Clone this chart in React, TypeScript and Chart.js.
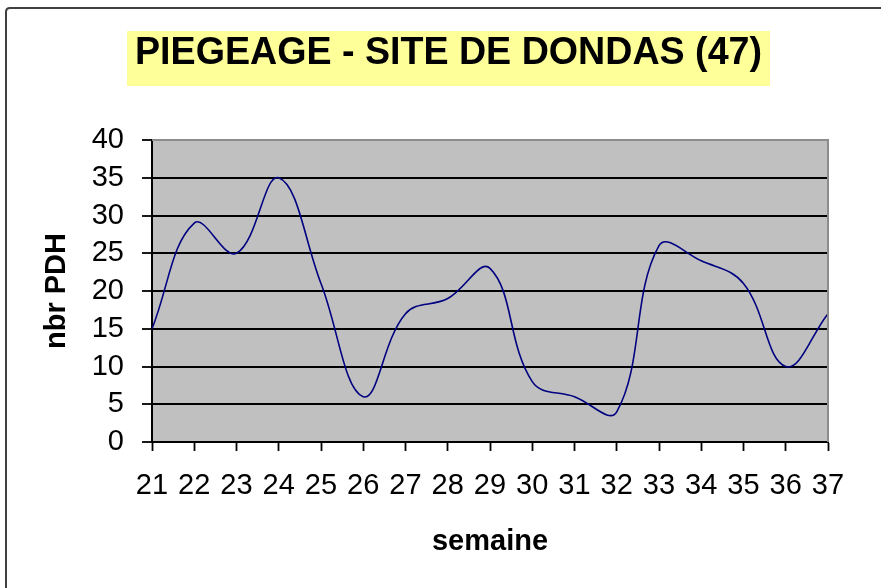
import React, { useEffect, useRef } from "react";
import { Chart, registerables } from "chart.js";

Chart.register(...registerables);

const weeks = ["21", "22", "23", "24", "25", "26", "27", "28", "29", "30", "31", "32", "33", "34", "35", "36", "37"];
const captures = [15, 29, 25, 35, 21, 6, 17, 19, 23, 8, 6, 4, 26, 24, 21, 10, 17];
const chartTitle = "PIEGEAGE - SITE DE DONDAS (47)";
const xTitle = "semaine";
const yTitle = "nbr PDH";
const yMin = 0;
const yMax = 40;
const yStep = 5;

const FONT = "'Liberation Sans', Arial, sans-serif";

const decorPlugin = {
  id: "decor",
  beforeDraw(chart: any) {
    const { ctx, chartArea } = chart;
    ctx.save();
    ctx.fillStyle = "#ffffff";
    ctx.fillRect(0, 0, chart.width, chart.height);
    // outer frame (top + left)
    ctx.strokeStyle = "#404040";
    ctx.lineWidth = 2;
    ctx.beginPath();
    ctx.moveTo(6, chart.height + 2);
    ctx.lineTo(6, 12);
    ctx.quadraticCurveTo(6, 8, 10, 8);
    ctx.lineTo(chart.width + 2, 8);
    ctx.stroke();
    // plot background
    ctx.fillStyle = "#c0c0c0";
    ctx.fillRect(chartArea.left, chartArea.top, chartArea.right - chartArea.left, chartArea.bottom - chartArea.top);
    // title box
    ctx.fillStyle = "#ffff99";
    ctx.fillRect(127, 31, 643, 55);
    ctx.fillStyle = "#000000";
    ctx.font = `bold 38px ${FONT}`;
    ctx.textAlign = "center";
    ctx.textBaseline = "middle";
    const w = ctx.measureText(chartTitle).width;
    const target = 627;
    ctx.save();
    ctx.translate(448.5, 54);
    ctx.scale(target / w, 1);
    ctx.fillText(chartTitle, 0, 0);
    ctx.restore();
    // axis titles
    ctx.font = `bold 29px ${FONT}`;
    ctx.fillText(xTitle, (chartArea.left + chartArea.right) / 2, 542);
    ctx.save();
    ctx.translate(57, (chartArea.top + chartArea.bottom) / 2);
    ctx.rotate(-Math.PI / 2);
    ctx.fillText(yTitle, 0, 0);
    ctx.restore();
    ctx.restore();
  },
  afterDatasetsDraw(chart: any) {
    const { ctx, chartArea } = chart;
    ctx.save();
    ctx.strokeStyle = "#8c8c8c";
    ctx.lineWidth = 2;
    ctx.beginPath();
    ctx.moveTo(chartArea.left, chartArea.top);
    ctx.lineTo(chartArea.right, chartArea.top);
    ctx.lineTo(chartArea.right, chartArea.bottom);
    ctx.stroke();
    ctx.restore();
  },
};

export default function App() {
  const canvasRef = useRef<HTMLCanvasElement | null>(null);

  useEffect(() => {
    const canvas = canvasRef.current;
    if (!canvas) return;
    const chart = new Chart(canvas, {
      type: "line",
      data: {
        labels: weeks,
        datasets: [
          {
            data: captures,
            borderColor: "#000080",
            borderWidth: 1.6,
            pointRadius: 0,
            tension: 0.4,
            fill: false,
          },
        ],
      },
      options: {
        animation: false,
        responsive: false,
        devicePixelRatio: 1,
        layout: { padding: { top: 140, right: 53, left: 0, bottom: 0 } },
        plugins: {
          legend: { display: false },
          title: { display: false },
          tooltip: { enabled: false },
        },
        scales: {
          x: {
            type: "category",
            offset: false,
            afterFit: (s: any) => {
              s.height = 146;
            },
            grid: {
              drawOnChartArea: false,
              drawTicks: true,
              tickLength: 9,
              tickColor: "#000000",
              tickWidth: 1.8,
            },
            border: { display: true, color: "#000000", width: 2 },
            ticks: {
              autoSkip: false,
              maxRotation: 0,
              minRotation: 0,
              color: "#000000",
              font: { family: FONT, size: 29 },
              padding: 18,
            },
          },
          y: {
            min: yMin,
            max: yMax,
            afterFit: (s: any) => {
              s.width = 152;
            },
            grid: {
              color: (c: any) => (c.tick && c.tick.value === yMax ? "rgba(0,0,0,0)" : "#000000"),
              lineWidth: 2,
              tickLength: 10,
              tickColor: "#000000",
              tickWidth: 1.8,
            },
            border: { display: true, color: "#000000", width: 2 },
            ticks: {
              stepSize: yStep,
              autoSkip: false,
              color: "#000000",
              font: { family: FONT, size: 29 },
              padding: 18,
            },
          },
        },
      },
      plugins: [decorPlugin],
    });
    return () => chart.destroy();
  }, []);

  return (
    <div style={{ position: "absolute", left: 0, top: 0, width: 881, height: 588 }}>
      <canvas ref={canvasRef} width={881} height={588} style={{ width: 881, height: 588, display: "block" }} />
    </div>
  );
}
